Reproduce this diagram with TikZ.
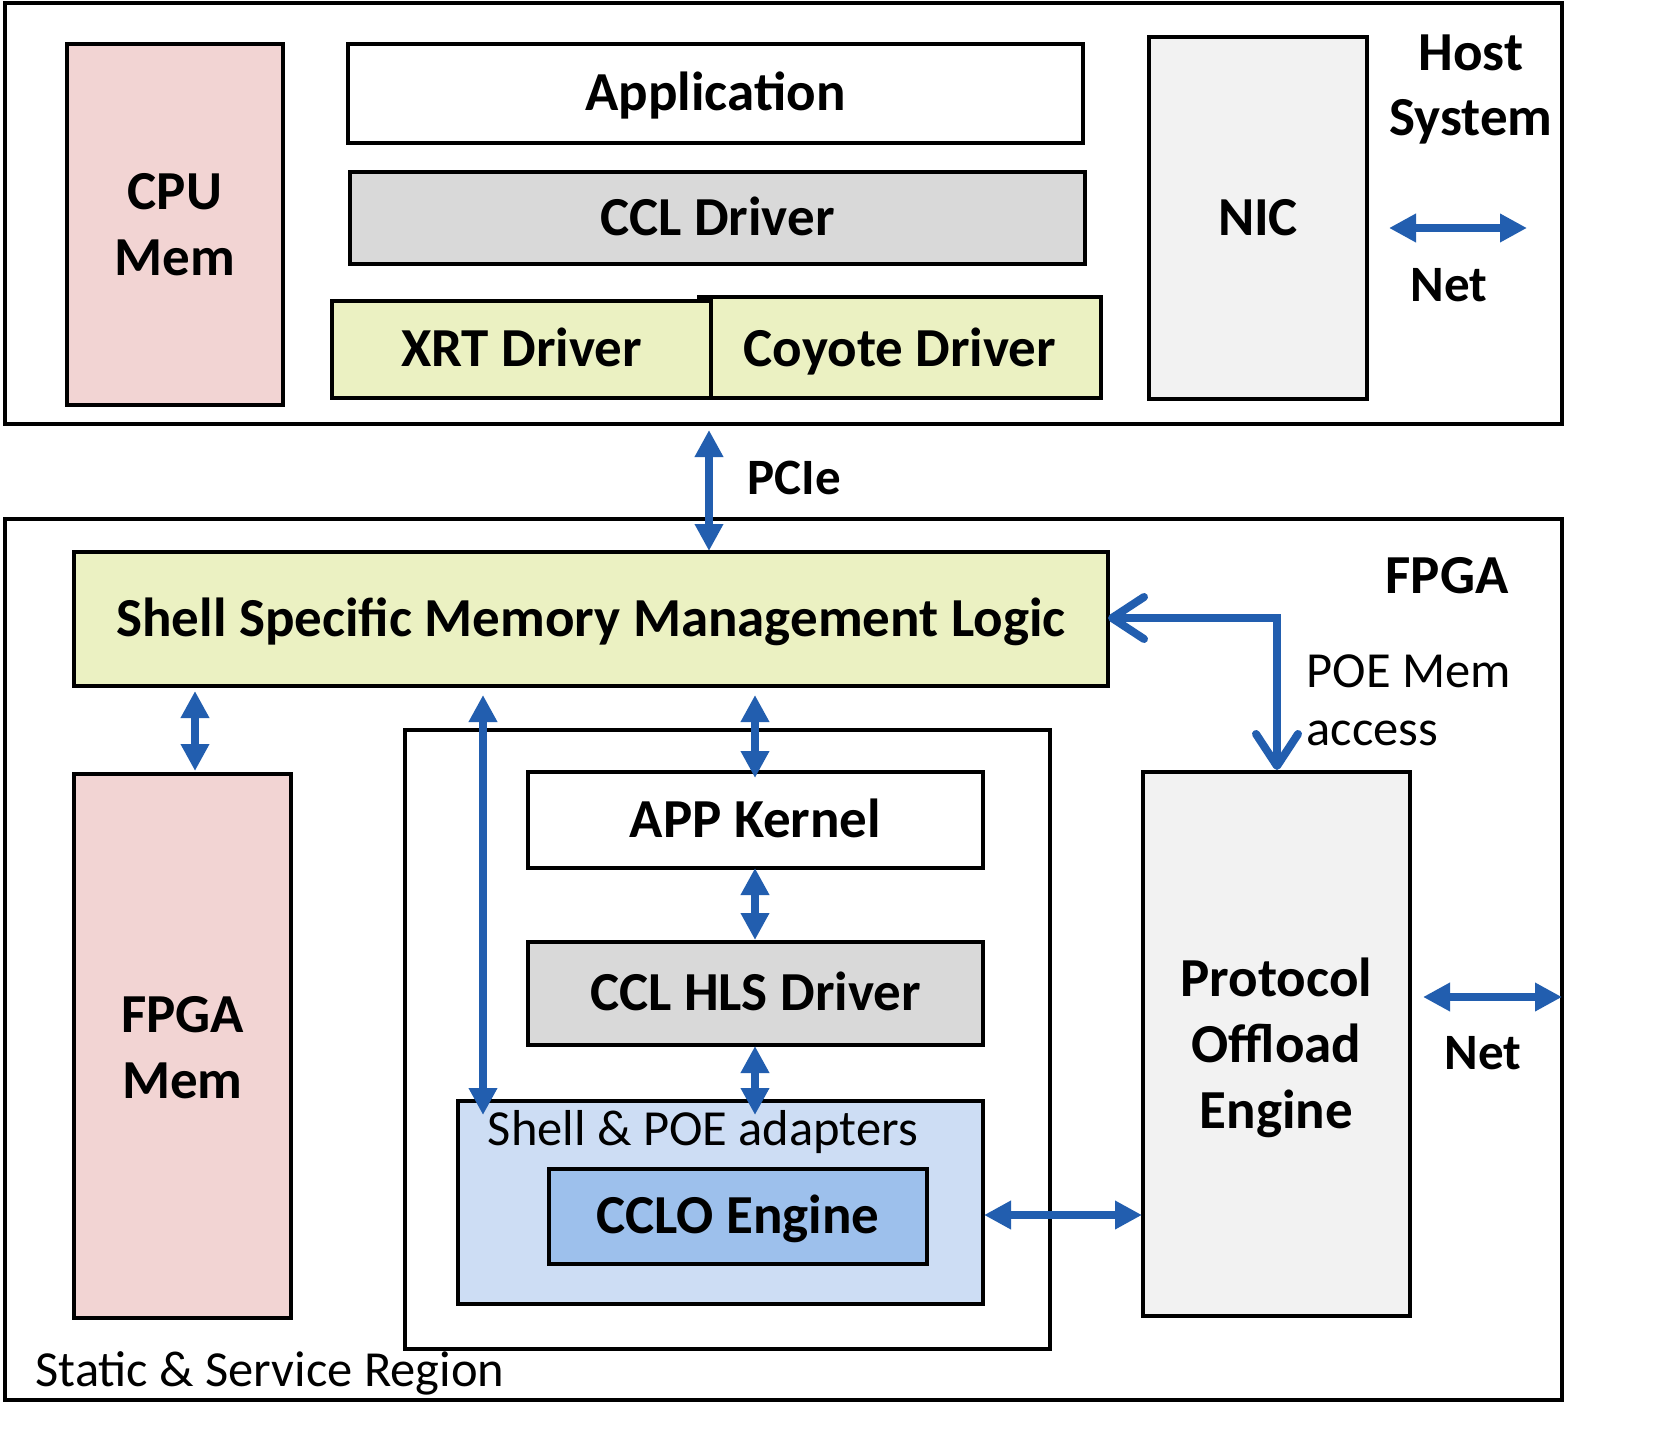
\documentclass[tikz,border=0pt]{standalone}
\usepackage{fontspec}
\setmainfont{Carlito}
\usetikzlibrary{arrows.meta}
\definecolor{pinkf}{HTML}{F2D4D3}
\definecolor{greenf}{HTML}{EBF1C2}
\definecolor{grayf}{HTML}{D9D9D9}
\definecolor{lgrayf}{HTML}{F2F2F2}
\definecolor{lbluef}{HTML}{CDDDF4}
\definecolor{bluef}{HTML}{9DC0EC}
\definecolor{arrblue}{HTML}{225EAF}
\begin{document}
\begin{tikzpicture}[x=1pt,y=-1pt,
  box/.style={draw=black,line width=4.5pt,inner sep=0pt,align=center},
  bigm/.style={font=\fontsize{55}{66}\selectfont\bfseries},
  big/.style={font=\fontsize{55}{66}\selectfont\bfseries,text height=34.6pt,text depth=0pt},
  mid/.style={font=\fontsize{51}{65}\selectfont\bfseries},
  reg/.style={font=\fontsize{50.5}{62}\selectfont},
  barrow/.style={draw=arrblue,line width=8pt,{Triangle[length=27pt,width=27pt]}-{Triangle[length=27pt,width=27pt]}},
  openarrow/.style={draw=arrblue,line width=8pt,line join=miter,{Straight Barb[length=32pt,width=42pt,round]}-{Straight Barb[length=32pt,width=42pt,round]}}
]
\useasboundingbox[fill=white] (0,0) rectangle (1671,1431);
% outer regions
\node[box,minimum width=1557pt,minimum height=421pt] (host) at (783.5,213.5) {};
\node[box,minimum width=1557pt,minimum height=881pt] (fpga) at (783.5,959.5) {};
% host system
\node[box,fill=pinkf,bigm,minimum width=216pt,minimum height=361pt] (cpumem) at (175,224.5) {CPU\\Mem};
\node[box,fill=white,big,minimum width=735pt,minimum height=99pt] (app) at (715.5,93.5) {Application};
\node[box,fill=grayf,big,minimum width=735pt,minimum height=92pt] (ccldrv) at (717.5,218) {CCL Driver};
\node[box,fill=greenf,minimum width=402pt,minimum height=101pt] (coyote) at (900,347.5) {};
\node[box,fill=greenf,big,minimum width=379pt,minimum height=97pt] (xrt) at (521.5,349.5) {XRT Driver};
\node[big] (coyotelbl) at (coyote.center |- xrt.center) {Coyote Driver};
\node[box,fill=lgrayf,big,minimum width=218pt,minimum height=362pt] (nic) at (1258,218) {NIC};
\node[font=\fontsize{55}{65}\selectfont\bfseries,align=center] (hostlbl) at (1471,89) {Host\\System};
\coordinate (net1a) at (1389,228);
\coordinate (net1b) at (1527,228);
\draw[barrow] (net1a) -- (net1b);
\node[mid] (net1lbl) at (1449,285) {Net};
% PCIe
\coordinate (pcieTop) at (709,430);
\coordinate (pcieBot) at (709,551);
\draw[barrow] (pcieTop) -- (pcieBot);
\node[mid] (pcielbl) at (794,478) {PCIe};
% FPGA
\node[font=\fontsize{55}{65}\selectfont\bfseries] (fpgalbl) at (1447,576) {FPGA};
\node[box,fill=greenf,big,minimum width=1034pt,minimum height=134pt] (shell) at (591,619) {Shell Specific Memory Management Logic};
\node[box,fill=pinkf,bigm,minimum width=217pt,minimum height=544pt] (fpgamem) at (182.5,1046) {};
\node[bigm,align=center] (fpgamemlbl) at (182.5,1048) {FPGA\\Mem};
\node[box,fill=white,minimum width=645pt,minimum height=619pt] (inner) at (727.5,1039.5) {};
\node[box,fill=white,big,minimum width=455pt,minimum height=96pt] (appk) at (755.5,820) {APP Kernel};
\node[box,fill=grayf,big,minimum width=455pt,minimum height=103pt] (cclhls) at (755.5,993.5) {CCL HLS Driver};
\node[box,fill=lbluef,minimum width=525pt,minimum height=203pt] (adapt) at (720.5,1202.5) {};
\node[reg] (adaptlbl) at (703,1132) {Shell \& POE adapters};
\node[box,fill=bluef,big,minimum width=378pt,minimum height=95pt] (cclo) at (738,1216.5) {CCLO Engine};
\node[box,fill=lgrayf,minimum width=267pt,minimum height=544pt] (poe) at (1276.5,1044) {};
\node[bigm,align=center] (poelbl) at (1276.5,1048) {Protocol\\Offload\\Engine};
\node[reg,anchor=west] (statlbl) at (32,1373) {Static \& Service Region};
% connectors
\coordinate (a1t) at (195,691);
\coordinate (a1b) at (195,771);
\draw[barrow] (a1t) -- (a1b);
\coordinate (a2t) at (483,695);
\coordinate (a2b) at (483,1115);
\draw[barrow] (a2t) -- (a2b);
\coordinate (a3t) at (755,695);
\coordinate (a3b) at (755,778);
\draw[barrow] (a3t) -- (a3b);
\coordinate (a4t) at (755,868);
\coordinate (a4b) at (755,940);
\draw[barrow] (a4t) -- (a4b);
\coordinate (a5t) at (755,1046);
\coordinate (a5b) at (755,1115);
\draw[barrow] (a5t) -- (a5b);
\coordinate (a6l) at (984,1215);
\coordinate (a6r) at (1142,1215);
\draw[barrow] (a6l) -- (a6r);
\coordinate (net2a) at (1423,997);
\coordinate (net2b) at (1562,997);
\draw[barrow] (net2a) -- (net2b);
\node[mid] (net2lbl) at (1483,1053) {Net};
% POE mem access
\coordinate (pm1) at (1108,618);
\coordinate (pm2) at (1277,618);
\coordinate (pm3) at (1277,770);
\draw[openarrow] (pm1) -- (pm2) -- (pm3);
\node[reg,anchor=west] (poemem1) at (1303,671) {POE Mem};
\node[reg,anchor=west] (poemem2) at (1303,733) {access};
\end{tikzpicture}
\end{document}
